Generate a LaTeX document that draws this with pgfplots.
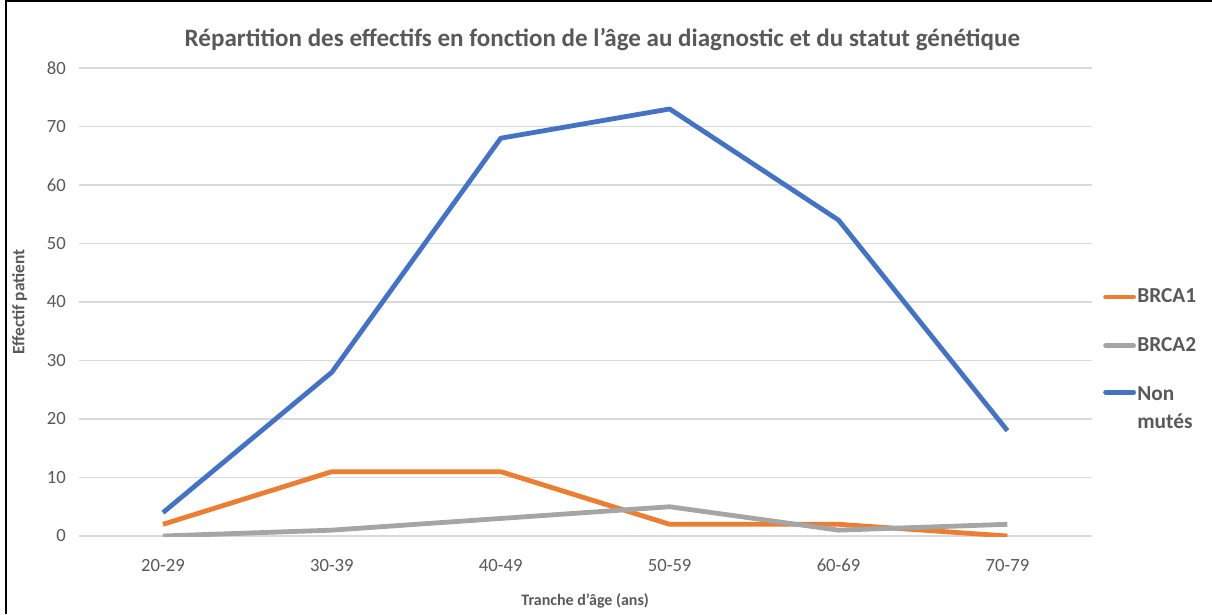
\documentclass[border=0pt]{standalone}
\usepackage{pgfplots}
\pgfplotsset{compat=1.18}
\usepackage{fontspec}
\setmainfont{Carlito}
\definecolor{txt}{HTML}{595959}
\definecolor{cOrange}{HTML}{ED7D31}
\definecolor{cGray}{HTML}{A5A5A5}
\definecolor{cBlue}{HTML}{4472C4}
\definecolor{gridc}{HTML}{D9D9D9}
\begin{document}
\begin{tikzpicture}
\path[use as bounding box] (0,0) rectangle (909pt,460.5pt);
\draw[black,line width=1.5pt] (4.5pt,0) -- (4.5pt,460pt) -- (909pt,460pt);
\begin{axis}[
    at={(58.9pt,58.5pt)}, anchor=south west,
    scale only axis, width=760pt, height=351pt,
    xmin=-0.5, xmax=5.5, ymin=0, ymax=80,
    xtick={0,...,5},
    xticklabels={20-29,30-39,40-49,50-59,60-69,70-79},
    ytick={0,10,...,80},
    ymajorgrids, major grid style={draw=gridc, line width=0.8pt},
    axis line style={draw=none},
    major tick length=0pt,
    /pgf/number format/assume math mode=true,
    tick label style={font=\fontsize{14}{16}\selectfont, text=txt},
    xticklabel style={yshift=-14pt},
    yticklabel style={xshift=-6pt},
    title={Répartition des effectifs en fonction de l’âge au diagnostic et du statut génétique},
    title style={at={(rel axis cs:0.517,1.043)}, anchor=center, font=\bfseries\fontsize{18.8}{20}\selectfont, text=txt},
    xlabel={Tranche d’âge (ans)},
    xlabel style={at={(rel axis cs:0.5,-0.139)}, anchor=center, font=\bfseries\fontsize{12}{14}\selectfont, text=txt},
    ylabel={Effectif patient},
    ylabel style={at={(rel axis cs:-0.058,0.5)}, anchor=center, font=\bfseries\fontsize{13}{15}\selectfont, text=txt},
    legend style={at={(rel axis cs:1.007,0.537)}, anchor=north west, draw=none, fill=none,
        font=\bfseries\fontsize{16}{21}\selectfont, text=txt, row sep=22.5pt,
        nodes={inner sep=1pt, align=left}},
    legend cell align=left,
    legend image code/.code={\draw[#1,line cap=round] (0pt,0pt) -- (21pt,0pt);},
    every axis plot/.append style={line width=3.6pt, line join=round},
]
\addplot[cOrange] coordinates {(0,2) (1,11) (2,11) (3,2) (4,2) (5,0)};
\addlegendentry{BRCA1}
\addplot[cGray] coordinates {(0,0) (1,1) (2,3) (3,5) (4,1) (5,2)};
\addlegendentry{BRCA2}
\addplot[cBlue, legend image post style={yshift=12pt}] coordinates {(0,4) (1,28) (2,68) (3,73) (4,54) (5,18)};
\addlegendentry{Non\\mutés}
\end{axis}
\end{tikzpicture}
\end{document}
